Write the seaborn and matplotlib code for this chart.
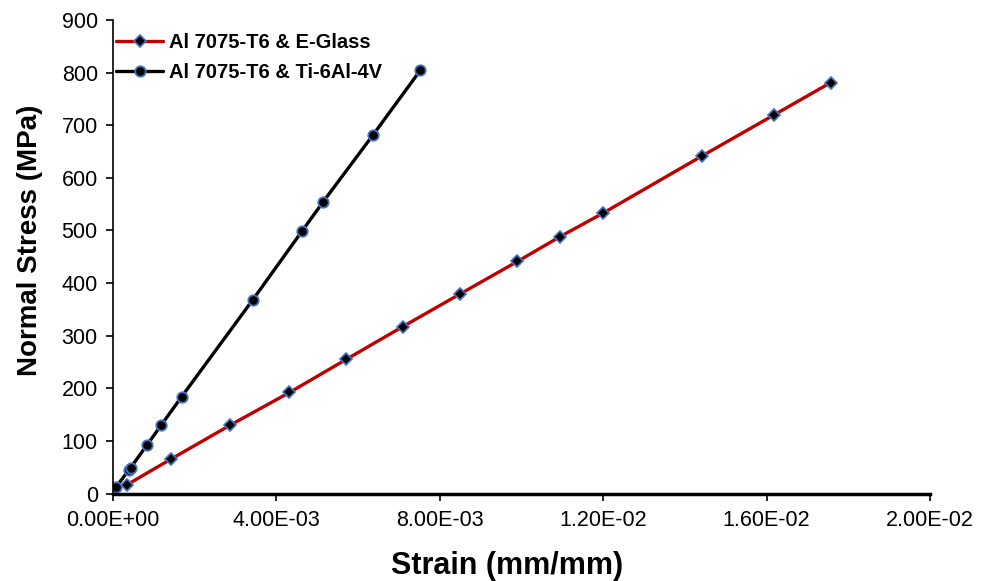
import pandas as pd
import numpy as np
import matplotlib
matplotlib.use("Agg")
import matplotlib.pyplot as plt
import seaborn as sns

# strain (mm/mm) and normal stress (MPa)
glass_strain = [0.00035, 0.00141, 0.00287, 0.00432, 0.00571, 0.00709, 0.00849,
                0.00990, 0.01094, 0.01200, 0.01443, 0.01617, 0.01757]
glass_stress = [17, 65, 130, 192, 255, 317, 379, 441, 488, 533, 642, 719, 781]

ti_strain = [0.00007, 0.00039, 0.00043, 0.00083, 0.00118, 0.00168, 0.00342,
             0.00463, 0.00514, 0.00637, 0.00752]
ti_stress = [12, 45, 49, 92, 130, 184, 368, 499, 554, 682, 804]

series_names = ["Al 7075-T6 & E-Glass", "Al 7075-T6 & Ti-6Al-4V"]
x_ticks = [0, 0.004, 0.008, 0.012, 0.016, 0.02]
x_tick_labels = ["0.00E+00", "4.00E-03", "8.00E-03", "1.20E-02", "1.60E-02", "2.00E-02"]

df_glass = pd.DataFrame({"Strain": glass_strain, "Stress": glass_stress})
df_ti = pd.DataFrame({"Strain": ti_strain, "Stress": ti_stress})

sns.set_style("white")
plt.rcParams['font.family'] = ['Liberation Sans', 'DejaVu Sans']
plt.rcParams['text.color'] = 'black'
plt.rcParams['axes.labelcolor'] = 'black'
plt.rcParams['xtick.color'] = 'black'
plt.rcParams['ytick.color'] = 'black'

fig = plt.figure(figsize=(9.89, 5.81), dpi=100)
ax = fig.add_axes([0.1143, 0.1506, 0.8260, 0.8150])

sns.lineplot(data=df_glass, x="Strain", y="Stress", ax=ax, color="#C00000", linewidth=2.4,
             marker="D", markersize=6, markerfacecolor="black",
             markeredgecolor="#4472C4", markeredgewidth=1.2, label=series_names[0])
sns.lineplot(data=df_ti, x="Strain", y="Stress", ax=ax, color="black", linewidth=2.4,
             marker="o", markersize=7.5, markerfacecolor="black",
             markeredgecolor="#4472C4", markeredgewidth=1.3, label=series_names[1])

ax.set_xlim(0, 0.02)
ax.set_ylim(0, 900)
ax.set_xticks(x_ticks)
ax.set_xticklabels(x_tick_labels, fontsize=15.5)
ax.set_yticks(np.arange(0, 901, 100))
ax.tick_params(axis='y', labelsize=15.5, direction='out', length=5, width=1.2, left=True, pad=6)
ax.tick_params(axis='x', direction='out', length=5, width=1.2, bottom=True, pad=7)

ax.set_xlabel("Strain (mm/mm)", fontsize=22, fontweight='bold')
ax.set_ylabel("Normal Stress (MPa)", fontsize=20, fontweight='bold')
ax.xaxis.set_label_coords(0.482, -0.122)
ax.yaxis.set_label_coords(-0.086, 0.535)

ax.spines['top'].set_visible(False)
ax.spines['right'].set_visible(False)
ax.spines['left'].set_linewidth(1.2)
ax.spines['left'].set_color('black')
ax.spines['bottom'].set_linewidth(2.5)
ax.spines['bottom'].set_color('black')

ax.legend(loc='upper left', bbox_to_anchor=(-0.018, 1.01), frameon=False,
          prop={'weight': 'bold', 'size': 14.5}, handlelength=2.3,
          handletextpad=0.3, labelspacing=0.55)

fig.savefig("out.png", dpi=100)
